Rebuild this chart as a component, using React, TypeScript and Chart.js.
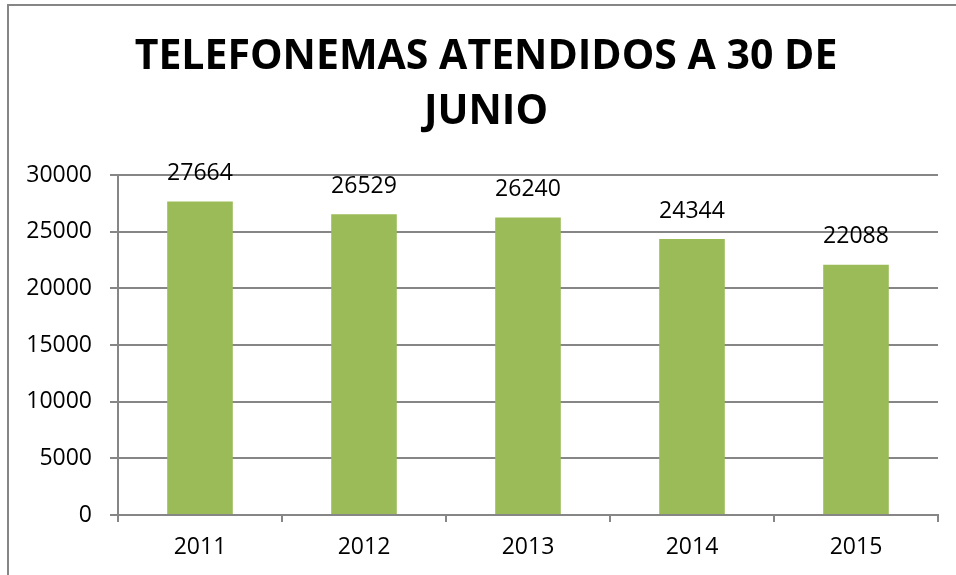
import React, { useEffect, useRef } from "react";
import { Chart, registerables } from "chart.js";

Chart.register(...registerables);

const categories = ["2011", "2012", "2013", "2014", "2015"];
const values = [27664, 26529, 26240, 24344, 22088];
const titleLines = ["TELEFONEMAS ATENDIDOS A 30 DE", "JUNIO"];
const yMin = 0;
const yMax = 30000;
const yStep = 5000;

const GRID = "#868686";
const BAR = "#9BBB59";
const FONT = "'Open Sans', sans-serif";

const borderPlugin = {
  id: "frameBorder",
  beforeDraw(chart: any) {
    const ctx = chart.ctx;
    ctx.save();
    ctx.strokeStyle = GRID;
    ctx.lineWidth = 2;
    ctx.beginPath();
    ctx.moveTo(8, chart.height + 5);
    ctx.lineTo(8, 5);
    ctx.lineTo(chart.width + 5, 5);
    ctx.stroke();
    ctx.restore();
  },
};

const titlePlugin = {
  id: "customTitle",
  afterDraw(chart: any) {
    const ctx = chart.ctx;
    ctx.save();
    ctx.font = `bold 41px ${FONT}`;
    ctx.fillStyle = "#000";
    ctx.textAlign = "center";
    ctx.textBaseline = "middle";
    titleLines.forEach((line, i) => {
      ctx.fillText(line, 486, 57 + i * 55);
    });
    ctx.restore();
  },
};

const labelPlugin = {
  id: "barLabels",
  afterDatasetsDraw(chart: any) {
    const ctx = chart.ctx;
    const meta = chart.getDatasetMeta(0);
    ctx.save();
    ctx.font = `23px ${FONT}`;
    ctx.fillStyle = "#000";
    ctx.textAlign = "center";
    ctx.textBaseline = "middle";
    meta.data.forEach((el: any, i: number) => {
      ctx.fillText(String(values[i]), el.x, el.y - 28);
    });
    ctx.restore();
  },
};

export default function App() {
  const ref = useRef<HTMLCanvasElement>(null);
  useEffect(() => {
    if (!ref.current) return;
    const chart = new Chart(ref.current, {
      type: "bar",
      data: {
        labels: categories,
        datasets: [
          {
            data: values,
            backgroundColor: BAR,
            borderWidth: 0,
            barPercentage: 0.4,
            categoryPercentage: 1,
          },
        ],
      },
      options: {
        animation: false,
        responsive: false,
        maintainAspectRatio: false,
        layout: { padding: { left: 0, right: 18, top: 175, bottom: 0 } },
        plugins: {
          legend: { display: false },
          tooltip: { enabled: false },
          title: { display: false },
        },
        scales: {
          x: {
            grid: {
              offset: true,
              drawOnChartArea: false,
              drawTicks: true,
              tickLength: 7,
              color: GRID,
              lineWidth: 2,
            },
            border: { color: GRID, width: 2 },
            ticks: { color: "#000", font: { family: FONT, size: 23 }, padding: 12 },
            afterFit: (s: any) => {
              s.height = 60;
            },
          },
          y: {
            min: yMin,
            max: yMax,
            grid: { color: GRID, lineWidth: 2, tickLength: 8 },
            border: { color: GRID, width: 2 },
            ticks: {
              stepSize: yStep,
              color: "#000",
              font: { family: FONT, size: 23 },
              padding: 18,
              callback: (v: any) => String(v),
            },
            afterFit: (s: any) => {
              s.width = 118;
            },
          },
        },
      },
      plugins: [borderPlugin, titlePlugin, labelPlugin],
    });
    return () => chart.destroy();
  }, []);
  return (
    <div style={{ position: "fixed", left: 0, top: 0, width: 956, height: 575, background: "#fff" }}>
      <canvas ref={ref} width={956} height={575} style={{ width: 956, height: 575 }} />
    </div>
  );
}
